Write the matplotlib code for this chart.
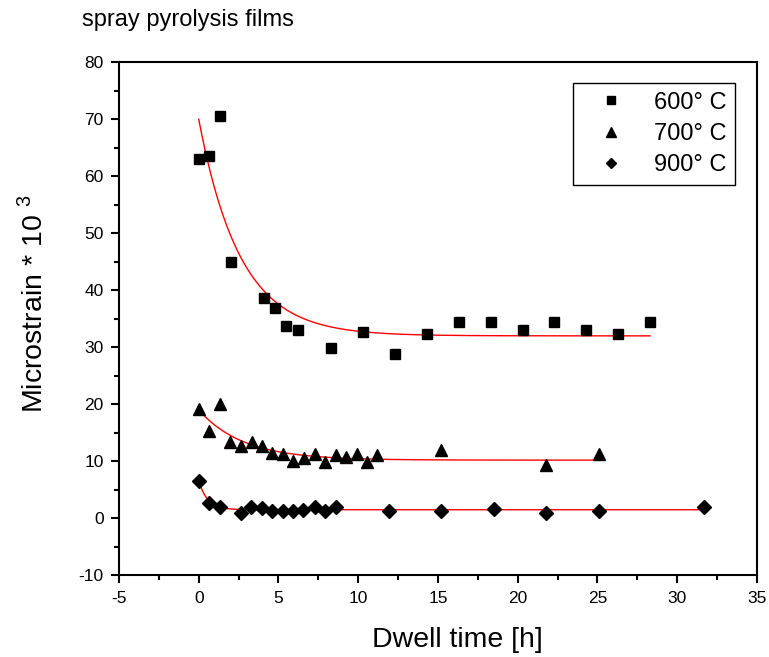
import numpy as np
import matplotlib
matplotlib.use("Agg")
import matplotlib.pyplot as plt
from matplotlib.ticker import MultipleLocator

plt.rcParams['font.family'] = ['Liberation Sans', 'DejaVu Sans']
plt.rcParams['mathtext.fontset'] = 'custom'
plt.rcParams['mathtext.rm'] = 'Liberation Sans'
plt.rcParams['axes.unicode_minus'] = False

# dwell time [h] and microstrain * 10^3 for each annealing temperature
t600 = [0.0, 0.67, 1.36, 2.03, 4.1, 4.8, 5.5, 6.2, 8.3, 10.3, 12.3, 14.3,
        16.3, 18.3, 20.3, 22.3, 24.3, 26.3, 28.3]
e600 = [63.0, 63.6, 70.5, 45.0, 38.6, 36.9, 33.7, 33.0, 29.8, 32.6, 28.8, 32.3,
        34.4, 34.4, 33.0, 34.4, 33.0, 32.3, 34.4]

t700 = [0.0, 0.63, 1.36, 1.96, 2.65, 3.32, 3.97, 4.61, 5.27, 5.93, 6.62, 7.27,
        7.92, 8.59, 9.25, 9.93, 10.55, 11.2, 15.2, 21.75, 25.07]
e700 = [19.2, 15.3, 20.0, 13.3, 12.6, 13.3, 12.7, 11.5, 11.3, 10.1, 10.6, 11.3,
        9.8, 11.1, 10.7, 11.3, 9.8, 11.1, 11.9, 9.35, 11.3]

t900 = [0.0, 0.63, 1.33, 2.65, 3.3, 3.97, 4.61, 5.27, 5.93, 6.56, 7.27, 7.92,
        8.59, 11.9, 15.2, 18.5, 21.75, 25.07, 31.7]
e900 = [6.5, 2.7, 1.9, 1.0, 1.9, 1.8, 1.2, 1.2, 1.2, 1.4, 1.9, 1.2,
        2.0, 1.2, 1.2, 1.7, 0.9, 1.3, 2.0]

# exponential decay fits: y = y0 + A * exp(-t / tau)
fit600 = (32.0, 38.0, 2.6)
fit700 = (10.2, 8.8, 2.8)
fit900 = (1.5, 5.1, 0.55)


def decay(t, p):
    y0, a, tau = p
    return y0 + a * np.exp(-t / tau)


fig = plt.figure(figsize=(7.69, 6.57), dpi=100)
ax = fig.add_axes([0.1547, 0.1244, 0.8297, 0.7808])

for t, e, p, mk, ms, lab in [(t600, e600, fit600, 's', 7.4, '600° C'),
                             (t700, e700, fit700, '^', 9.0, '700° C'),
                             (t900, e900, fit900, 'D', 7.0, '900° C')]:
    ax.plot(t, e, linestyle='none', marker=mk, markersize=ms,
            color='black', label=lab, zorder=3)
    tt = np.linspace(0, max(t), 300)
    ax.plot(tt, decay(tt, p), color='red', linewidth=1.0, zorder=2)

ax.set_xlim(-5, 35)
ax.set_ylim(-10, 80)
ax.xaxis.set_major_locator(MultipleLocator(5))
ax.xaxis.set_minor_locator(MultipleLocator(2.5))
ax.yaxis.set_major_locator(MultipleLocator(10))
ax.yaxis.set_minor_locator(MultipleLocator(5))

for s in ax.spines.values():
    s.set_linewidth(1.5)
ax.tick_params(which='both', direction='out', top=False, right=False,
               width=1.5, labelsize=12.5)
ax.tick_params(which='major', length=6.0, pad=5)
ax.tick_params(which='minor', length=3.8)

ax.set_xlabel('Dwell time [h]', fontsize=20.5)
ax.xaxis.set_label_coords(0.531, -0.1)
ax.set_ylabel('Microstrain * 10 $^{3}$', fontsize=20.5)
ax.yaxis.set_label_coords(-0.11, 0.53)

leg = ax.legend(loc='upper right', bbox_to_anchor=(0.9655, 0.959),
                fontsize=17, numpoints=1, markerscale=0.75, handlelength=2.5,
                handletextpad=0.6, borderpad=0.35, labelspacing=0.4,
                borderaxespad=0, fancybox=False, framealpha=1)
leg.get_frame().set_edgecolor('black')
leg.get_frame().set_linewidth(1.0)

fig.text(82 / 769, 1 - 26 / 657, 'spray pyrolysis films', fontsize=17,
         va='baseline', ha='left')

fig.savefig('out.png', dpi=100)
